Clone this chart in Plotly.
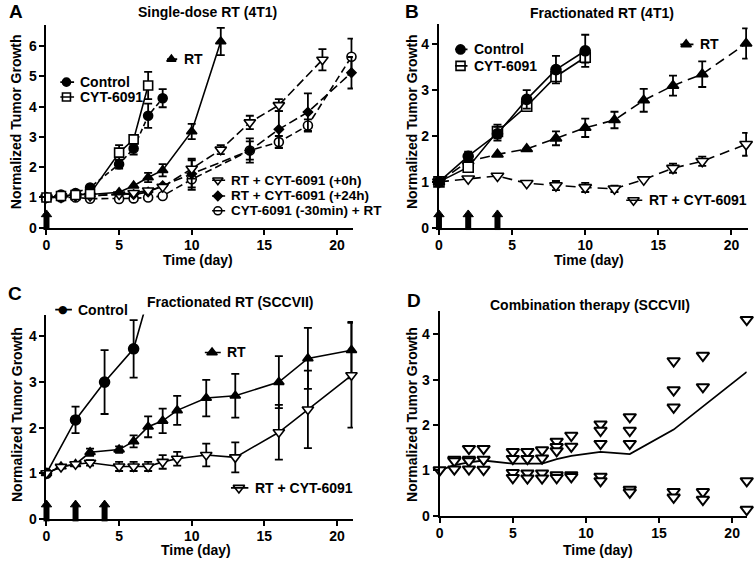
import plotly.graph_objects as go

# ---------------- DATA ----------------
x_ticks = [0, 5, 10, 15, 20]
a_y_ticks = [0, 1, 2, 3, 4, 5, 6]
bcd_y_ticks = [0, 1, 2, 3, 4]

# Panel A: Single-dose RT (4T1)
a_ctrl_x = [0, 1, 2, 3, 5, 6, 7, 8]
a_ctrl_y = [1.0, 1.1, 1.15, 1.33, 2.1, 2.62, 3.7, 4.28]
a_ctrl_e = [0, 0, 0, 0, 0.15, 0.2, 0.4, 0.3]
a_cyt_x = [0, 1, 2, 3, 5, 6, 7]
a_cyt_y = [1.0, 1.05, 1.08, 1.12, 2.48, 2.92, 4.7]
a_cyt_e = [0, 0, 0, 0, 0.25, 0.15, 0.45]
a_rt_x = [0, 1, 2, 3, 5, 6, 7, 8, 10, 12]
a_rt_y = [1.0, 1.05, 1.1, 1.1, 1.17, 1.39, 1.66, 1.9, 3.18, 6.15]
a_rt_e = [0, 0, 0, 0, 0, 0, 0.15, 0.2, 0.25, 0.45]
a_rtc0_x = [0, 1, 2, 3, 5, 6, 7, 8, 10, 12, 14, 16, 19]
a_rtc0_y = [1.0, 1.0, 1.05, 1.05, 1.1, 1.15, 1.23, 1.35, 1.95, 2.58, 3.48, 4.05, 5.55]
a_rtc0_e = [0, 0, 0, 0, 0, 0, 0, 0, 0.33, 0.15, 0.22, 0.2, 0.35]
a_rtc24_x = [0, 1, 2, 3, 5, 6, 7, 8, 10, 14, 16, 18, 21]
a_rtc24_y = [1.0, 1.05, 1.05, 1.05, 1.12, 1.1, 1.18, 1.39, 1.78, 2.55, 3.25, 3.82, 5.12]
a_rtc24_e = [0, 0, 0, 0, 0, 0, 0, 0, 0.45, 0.4, 0.6, 0.62, 0.52]
a_pre_x = [0, 1, 2, 3, 5, 6, 7, 8, 10, 14, 16, 18, 21]
a_pre_y = [1.0, 1.0, 1.0, 0.96, 0.95, 0.97, 1.0, 1.05, 1.6, 2.55, 2.83, 3.38, 5.65]
a_pre_e = [0, 0, 0, 0, 0, 0, 0, 0, 0.35, 0.3, 0.2, 0.2, 0.6]

# Panel B: Fractionated RT (4T1)
b_ctrl_x = [0, 2, 4, 6, 8, 10]
b_ctrl_y = [1.0, 1.56, 2.05, 2.8, 3.45, 3.86]
b_ctrl_e = [0, 0.1, 0.15, 0.2, 0.3, 0.35]
b_cyt_x = [0, 2, 4, 6, 8, 10]
b_cyt_y = [1.0, 1.32, 2.1, 2.65, 3.3, 3.72]
b_cyt_e = [0, 0.1, 0.15, 0.1, 0.1, 0.12]
b_rt_x = [0, 2, 4, 6, 8, 10, 12, 14, 16, 18, 21]
b_rt_y = [1.0, 1.45, 1.6, 1.72, 1.95, 2.18, 2.35, 2.78, 3.1, 3.35, 4.02]
b_rt_e = [0, 0, 0, 0, 0.15, 0.2, 0.18, 0.25, 0.22, 0.28, 0.33]
b_rtc_x = [0, 2, 4, 6, 8, 10, 12, 14, 16, 18, 21]
b_rtc_y = [1.0, 1.07, 1.13, 0.97, 0.92, 0.88, 0.85, 1.05, 1.3, 1.45, 1.82]
b_rtc_e = [0, 0, 0, 0, 0.1, 0.1, 0.07, 0, 0.1, 0.1, 0.25]

# Panel C: Fractionated RT (SCCVII)
c_ctrl_x = [0, 2, 4, 6, 7]
c_ctrl_y = [1.0, 2.17, 3.0, 3.73, 4.85]
c_ctrl_e = [0, 0.29, 0.7, 0.63, 0]
c_rt_x = [0, 1, 2, 3, 5, 6, 7, 8, 9, 11, 13, 16, 18, 21]
c_rt_y = [1.0, 1.15, 1.2, 1.46, 1.52, 1.7, 2.02, 2.15, 2.38, 2.65, 2.7, 3.0, 3.52, 3.7]
c_rt_e = [0, 0, 0, 0.08, 0.07, 0.13, 0.23, 0.27, 0.32, 0.4, 0.48, 0.57, 0.67, 0.62]
c_rtc_x = [0, 1, 2, 3, 5, 6, 7, 8, 9, 11, 13, 16, 18, 21]
c_rtc_y = [1.0, 1.14, 1.2, 1.23, 1.15, 1.15, 1.15, 1.25, 1.32, 1.4, 1.35, 1.9, 2.4, 3.15]
c_rtc_e = [0, 0, 0, 0.06, 0.1, 0.1, 0.1, 0.15, 0.15, 0.25, 0.33, 0.6, 0.85, 1.15]

# Panel D: Combination therapy (SCCVII) - individual tumours + mean line
d_days = [0, 1, 2, 3, 5, 6, 7, 8, 9, 11, 13, 16, 18, 21]
d_values = [
    [1.01],
    [1.24, 1.21, 1.03],
    [1.48, 1.24, 1.21, 1.03],
    [1.48, 1.24, 1.02],
    [1.41, 1.26, 0.95, 0.84],
    [1.41, 1.26, 0.94, 0.83],
    [1.45, 1.27, 0.94, 0.83],
    [1.64, 1.52, 1.43, 0.9, 0.84],
    [1.77, 1.53, 0.9, 0.86],
    [2.02, 1.88, 1.59, 0.87, 0.77],
    [2.18, 1.88, 1.59, 0.58, 0.52],
    [3.41, 2.77, 2.39, 0.53, 0.41],
    [3.53, 2.84, 0.53, 0.36],
    [4.32, 0.77, 0.14],
]
d_mean_x = c_rtc_x
d_mean_y = [1.0, 1.12, 1.18, 1.22, 1.15, 1.15, 1.15, 1.25, 1.32, 1.41, 1.36, 1.9, 2.4, 3.17]

# radiation treatment days (arrows)
rt_days_a = [0]
rt_days_bc = [0, 2, 4]

# ---------------- STYLE / LAYOUT ----------------
BLACK = "black"
FONT = "Liberation Sans, Arial, sans-serif"
W, H = 756, 568

panels = {
    "A": dict(xa="x", ya="y", xdom=[0.0565, 0.464], ydom=[0.5933, 0.9555], xr=[0, 21.1], yr=[0, 6.7], yt=a_y_ticks),
    "B": dict(xa="x2", ya="y2", xdom=[0.5784, 0.9888], ydom=[0.5933, 0.9576], xr=[0, 21.1], yr=[0, 4.45], yt=bcd_y_ticks),
    "C": dict(xa="x3", ya="y3", xdom=[0.0565, 0.464], ydom=[0.0734, 0.4382], xr=[0, 21.1], yr=[0, 4.48], yt=bcd_y_ticks),
    "D": dict(xa="x4", ya="y4", xdom=[0.5794, 0.9877], ydom=[0.0787, 0.4438], xr=[0, 21.0], yr=[0, 4.5], yt=bcd_y_ticks),
}

fig = go.Figure()


def bold(size):
    return dict(family=FONT, size=size, color=BLACK, weight="bold")


def marker_style(symbol, filled, size):
    return dict(symbol=symbol, size=size, color=BLACK if filled else "white",
                line=dict(color=BLACK, width=1.6))


def px_per_unit(p):
    P = panels[p]
    return H * (P["ydom"][1] - P["ydom"][0]) / (P["yr"][1] - P["yr"][0])


def series(p, x, y, e, symbol, filled, size, dash="solid", clip=False):
    P = panels[p]
    ex = [xi for xi, ei in zip(x, e) if ei > 0]
    ey = [yi for yi, ei in zip(y, e) if ei > 0]
    ee = [ei for ei in e if ei > 0]
    if ex:
        fig.add_trace(go.Scatter(
            x=ex, y=ey, mode="markers", marker=dict(size=1, color="rgba(0,0,0,0)"),
            error_y=dict(type="data", array=ee, visible=True, color=BLACK, thickness=1.8, width=4),
            xaxis=P["xa"], yaxis=P["ya"], cliponaxis=False, showlegend=False, hoverinfo="skip"))
    fig.add_trace(go.Scatter(
        x=x, y=y, mode="lines+markers", line=dict(color=BLACK, width=1.6, dash=dash),
        marker=marker_style(symbol, filled, size),
        xaxis=P["xa"], yaxis=P["ya"], cliponaxis=clip, showlegend=False))


def y_paper(p, y):
    P = panels[p]
    d0, d1 = P["ydom"]
    r0, r1 = P["yr"]
    return d0 + (y - r0) / (r1 - r0) * (d1 - d0)


def legend_entry(p, x0, x1, y, symbol, filled, size, label, outside=False, fsize=14):
    P = panels[p]
    yp = y_paper(p, y)
    fig.add_annotation(x=x1, y=yp, ax=x0, ay=0, xref=P["xa"], yref="paper", axref=P["xa"], ayref="pixel",
                       text="", showarrow=True, arrowhead=0, arrowwidth=1.6, arrowcolor=BLACK,
                       standoff=0, startstandoff=0)
    if outside:
        # marker above the plotting area (points outside the axis range are hidden by plotly)
        fig.add_annotation(x=(x0 + x1) / 2, y=yp, xref=P["xa"], yref="paper", text="●", showarrow=False,
                           xanchor="center", yanchor="middle", font=dict(family="DejaVu Sans", size=11, color=BLACK))
    else:
        fig.add_trace(go.Scatter(x=[(x0 + x1) / 2], y=[y], mode="markers", marker=marker_style(symbol, filled, size),
                                 xaxis=P["xa"], yaxis=P["ya"], cliponaxis=False, showlegend=False))
    fig.add_annotation(x=x1 + 0.3, y=yp, xref=P["xa"], yref="paper", text=label, showarrow=False,
                       xanchor="left", yanchor="middle", font=bold(fsize))


def rt_arrows(p, days, total_px):
    """thick upward arrows: shaft (vertical line marker) + head (triangle marker)"""
    P = panels[p]
    u = px_per_unit(p)
    shaft_px = total_px - 7
    head_center = (total_px - 4.5) / u
    xs = list(days)
    fig.add_trace(go.Scatter(x=xs, y=[shaft_px / 2 / u] * len(xs), mode="markers",
                             marker=dict(symbol="line-ns", size=shaft_px, line=dict(color=BLACK, width=6)),
                             xaxis=P["xa"], yaxis=P["ya"], cliponaxis=False,
                             showlegend=False, hoverinfo="skip"))
    fig.add_trace(go.Scatter(x=xs, y=[head_center] * len(xs), mode="markers",
                             marker=dict(symbol="triangle-up", size=9, color=BLACK,
                                         line=dict(color=BLACK, width=1)),
                             xaxis=P["xa"], yaxis=P["ya"], cliponaxis=False,
                             showlegend=False, hoverinfo="skip"))


# Panel A
series("A", a_pre_x, a_pre_y, a_pre_e, "circle", False, 9, "7px,4px")
series("A", a_rtc24_x, a_rtc24_y, a_rtc24_e, "diamond", True, 7, "9px,4px")
series("A", a_rtc0_x, a_rtc0_y, a_rtc0_e, "triangle-down", False, 10, "9px,4px")
series("A", a_rt_x, a_rt_y, a_rt_e, "triangle-up", True, 9, "solid")
series("A", a_ctrl_x, a_ctrl_y, a_ctrl_e, "circle", True, 9, "5px,3px")
series("A", a_cyt_x, a_cyt_y, a_cyt_e, "square", False, 9, "solid")
rt_arrows("A", rt_days_a, 18)
legend_entry("A", 8.2, 9.0, 5.57, "triangle-up", True, 8, "RT")
legend_entry("A", 0.85, 1.9, 4.81, "circle", True, 8, "Control")
legend_entry("A", 0.85, 1.9, 4.32, "square", False, 8, "CYT-6091")
legend_entry("A", 11.3, 12.3, 1.57, "triangle-down", False, 9, "RT + CYT-6091 (+0h)", fsize=13.5)
legend_entry("A", 11.3, 12.3, 1.05, "diamond", True, 7, "RT + CYT-6091 (+24h)", fsize=13.5)
legend_entry("A", 11.3, 12.3, 0.56, "circle", False, 8, "CYT-6091 (-30min) + RT", fsize=13.5)

# Panel B
series("B", b_rtc_x, b_rtc_y, b_rtc_e, "triangle-down", False, 11, "10px,6px")
series("B", b_rt_x, b_rt_y, b_rt_e, "triangle-up", True, 10, "10px,6px")
series("B", b_cyt_x, b_cyt_y, b_cyt_e, "square", False, 10, "solid")
series("B", b_ctrl_x, b_ctrl_y, b_ctrl_e, "circle", True, 10, "solid")
rt_arrows("B", rt_days_bc, 18)
legend_entry("B", 1.0, 1.95, 3.89, "circle", True, 9, "Control")
legend_entry("B", 1.0, 1.95, 3.53, "square", False, 9, "CYT-6091")
legend_entry("B", 16.4, 17.4, 4.0, "triangle-up", True, 9, "RT")
legend_entry("B", 12.7, 13.9, 0.6, "triangle-down", False, 10, "RT + CYT-6091")

# Panel C
series("C", c_ctrl_x, c_ctrl_y, c_ctrl_e, "circle", True, 10, "solid", clip=True)
series("C", c_rt_x, c_rt_y, c_rt_e, "triangle-up", True, 9, "solid")
series("C", c_rtc_x, c_rtc_y, c_rtc_e, "triangle-down", False, 10, "solid")
rt_arrows("C", rt_days_bc, 19)
legend_entry("C", 0.5, 1.75, 4.59, "circle", True, 9, "Control", outside=True)
legend_entry("C", 10.8, 12.0, 3.65, "triangle-up", True, 9, "RT")
legend_entry("C", 12.6, 13.9, 0.68, "triangle-down", False, 10, "RT + CYT-6091")

# Panel D
dx = [d for d, vals in zip(d_days, d_values) for _ in vals]
dy = [v for vals in d_values for v in vals]
fig.add_trace(go.Scatter(x=d_mean_x, y=d_mean_y, mode="lines", line=dict(color=BLACK, width=1.8),
                         xaxis="x4", yaxis="y4", showlegend=False))
fig.add_trace(go.Scatter(x=dx, y=dy, mode="markers",
                         marker=dict(symbol="triangle-down", size=11, color="white",
                                     line=dict(color=BLACK, width=2)),
                         xaxis="x4", yaxis="y4", cliponaxis=False, showlegend=False))


def axis_style(**kw):
    d = dict(showline=True, linecolor=BLACK, linewidth=2, ticks="outside", ticklen=5, tickwidth=2,
             tickcolor=BLACK, showgrid=False, zeroline=False, tickfont=bold(14), fixedrange=True)
    d.update(kw)
    return d


layout_axes = {}
for i, (k, P) in enumerate(panels.items()):
    sfx = "" if i == 0 else str(i + 1)
    layout_axes["xaxis" + sfx] = axis_style(domain=P["xdom"], range=P["xr"], tickvals=x_ticks,
                                            anchor=P["ya"], ticklabelstandoff=-2)
    layout_axes["yaxis" + sfx] = axis_style(domain=P["ydom"], range=P["yr"], tickvals=P["yt"],
                                            anchor=P["xa"])

fig.update_layout(width=W, height=H, margin=dict(l=0, r=0, t=0, b=0), autosize=False,
                  paper_bgcolor="white", plot_bgcolor="white", showlegend=False, **layout_axes)

# titles, panel letters, axis titles (paper coords)
texts = [
    ("Single-dose RT (4T1)", 205, 12, 14, 0),
    ("Fractionated RT (4T1)", 601, 13, 14, 0),
    ("Fractionated RT (SCCVII)", 227, 306, 14, 0),
    ("Combination therapy (SCCVII)", 589, 309, 14, 0),
    ("A", 12, 12, 19, 0), ("B", 410, 12, 19, 0), ("C", 11, 298, 19, 0), ("D", 412, 305, 19, 0),
    ("Time (day)", 195, 264, 14, 0), ("Time (day)", 588, 264, 14, 0),
    ("Time (day)", 193, 558, 14, 0), ("Time (day)", 597, 558, 14, 0),
    ("Normalized Tumor Growth", 12, 123, 14, -90), ("Normalized Tumor Growth", 410, 123, 14, -90),
    ("Normalized Tumor Growth", 13, 420, 14, -90), ("Normalized Tumor Growth", 410, 420, 14, -90),
]
for t, px, py, sz, ang in texts:
    fig.add_annotation(x=px / W, y=1 - py / H, xref="paper", yref="paper", text=t, showarrow=False,
                       xanchor="center", yanchor="middle", textangle=ang, font=bold(sz))

fig.write_html("out.html", config={"displayModeBar": False},
               post_script="document.body.style.margin='0';document.body.style.overflow='hidden';")
